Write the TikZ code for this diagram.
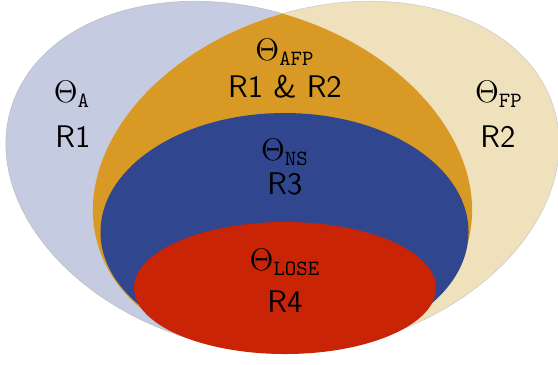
\documentclass[tikz,border=0pt]{standalone}
\usepackage{amsmath}

\definecolor{setA}{RGB}{197,203,225}
\definecolor{setFP}{RGB}{239,225,188}
\definecolor{setAFP}{RGB}{216,154,36}
\definecolor{setNS}{RGB}{48,70,142}
\definecolor{setLOSE}{RGB}{202,36,6}

\begin{document}
\begin{tikzpicture}[x=0.5bp, y=-0.5bp,
    lbl/.style={font=\Large, inner sep=0pt, scale=1.09},
    rlbl/.style={font=\Large\sffamily, inner sep=0pt, scale=1.09},
    rimA/.style={rotate around={-16.7:(239,177)}},
    rimFP/.style={rotate around={16.7:(326,177)}}]

  \useasboundingbox (0,0) rectangle (558,364);

  % ====== two outer sets ======
  \fill[setA, draw=black!25, line width=0.3pt, rimA] (239,177) ellipse [x radius=238, y radius=169];
  \fill[setFP, draw=black!20, line width=0.3pt, rimFP] (326,177) ellipse [x radius=238, y radius=169];

  % ====== overlap of the two ======
  \begin{scope}
    \clip[rimA] (239,177) ellipse [x radius=238, y radius=169];
    \fill[setAFP, rimFP] (326,177) ellipse [x radius=238, y radius=169];
  \end{scope}

  % ====== inner sets ======
  \fill[setNS] (284.5,232) ellipse [x radius=184, y radius=119];
  \fill[setLOSE] (285,288) ellipse [x radius=151, y radius=66];

  % ====== labels ======
  \node[lbl] (thA) at (72,94) {$\Theta_{\mathtt{A}}$};
  \node[rlbl] (rA) at (73,137) {R1};
  \node[lbl] (thFP) at (499,94) {$\Theta_{\mathtt{FP}}$};
  \node[rlbl] (rFP) at (498,137) {R2};
  \node[lbl] (thAFP) at (285,52) {$\Theta_{\mathtt{AFP}}$};
  \node[rlbl] (rAFP) at (285,87) {R1 \& R2};
  \node[lbl] (thNS) at (285,152) {$\Theta_{\mathtt{NS}}$};
  \node[rlbl] (rNS) at (285,184) {R3};
  \node[lbl] (thLOSE) at (285,262) {$\Theta_{\mathtt{LOSE}}$};
  \node[rlbl] (rLOSE) at (285,302) {R4};

\end{tikzpicture}
\end{document}
